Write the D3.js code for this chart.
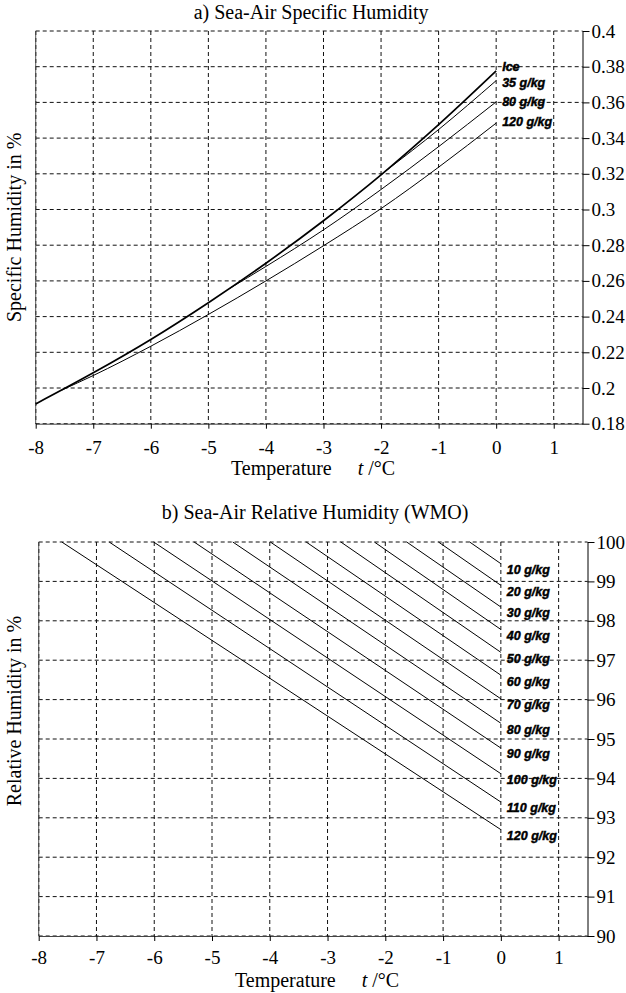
<!DOCTYPE html>
<html>
<head>
<meta charset="utf-8">
<script src="https://cdn.jsdelivr.net/npm/d3@7"></script>
<style>
  html, body { margin: 0; padding: 0; background: #fff; }
  svg { display: block; }
  .tick-label, .title, .axis-title { font-family: "Liberation Serif", "Times New Roman", serif; fill: #000; }
  .curve-label { font-family: "Liberation Sans", Arial, sans-serif; font-weight: bold; font-style: italic; font-size: 12.5px; fill: #000; stroke: #000; stroke-width: 0.45px; }
</style>
</head>
<body>
<div id="chart"></div>
<script>
// ---- panel a) specific humidity (%), temperature in °C
const xTicks = [-8, -7, -6, -5, -4, -3, -2, -1, 0, 1];
const qTicks = [0.18, 0.2, 0.22, 0.24, 0.26, 0.28, 0.3, 0.32, 0.34, 0.36, 0.38, 0.4];

const iceTemp = [-8, -7, -6, -5, -4, -3, -2, -1, 0];
const iceQ = [0.1911, 0.2085, 0.2272, 0.2478, 0.2699, 0.2937, 0.3194, 0.3475, 0.3776];

const sea35Temp = [-1.92, -1, 0];
const sea35Q = [0.3216, 0.3448, 0.3722];

const sea80Temp = [-4.64, -4, -3, -2, -1, 0];
const sea80Q = [0.2556, 0.2681, 0.2886, 0.3112, 0.3352, 0.3603];

const sea120Temp = [-7.55, -7, -6, -5, -4, -3, -2, -1, 0];
const sea120Q = [0.1988, 0.2070, 0.2234, 0.2412, 0.2600, 0.2797, 0.3005, 0.3237, 0.3484];

const qLabels = ["Ice", "35 g/kg", "80 g/kg", "120 g/kg"];

// ---- panel b) relative humidity (%), one straight line per salinity
const rhTicks = [90, 91, 92, 93, 94, 95, 96, 97, 98, 99, 100];
const salinities = [10, 20, 30, 40, 50, 60, 70, 80, 90, 100, 110, 120];
const rhStartTemp = [-0.54, -1.08, -1.63, -2.19, -2.77, -3.37, -3.99, -4.64, -5.31, -6.01, -6.78, -7.6];
const rhStartValue = [100, 100, 100, 100, 100, 100, 100, 100, 100, 100, 100, 100];
const rhEndTemp = [0, 0, 0, 0, 0, 0, 0, 0, 0, 0, 0, 0];
const rhEndValue = [99.45, 98.9, 98.35, 97.78, 97.2, 96.62, 96.02, 95.4, 94.77, 94.12, 93.4, 92.7];

const W = 626, H = 993;
const svg = d3.select("#chart").append("svg").attr("width", W).attr("height", H);

function zip(xs, ys) {
  return xs.map((t, i) => ({ t, v: ys[i] }));
}

function drawPanel(opt) {
  const x = d3.scaleLinear().domain([-8, 1.5]).range([opt.left, opt.right]);
  const y = d3.scaleLinear().domain(opt.yDomain).range([opt.bottom, opt.top]);
  const g = svg.append("g");

  // grid
  const grid = g.append("g").attr("stroke", "#111").attr("stroke-width", 1).attr("stroke-dasharray", "4,3");
  grid.selectAll("line.v").data(xTicks.concat([-8])).join("line").attr("class", "v")
    .attr("x1", d => x(d)).attr("x2", d => x(d))
    .attr("y1", opt.top).attr("y2", opt.bottom);
  grid.selectAll("line.h").data(opt.yTicks).join("line").attr("class", "h")
    .attr("x1", opt.left).attr("x2", opt.right)
    .attr("y1", d => y(d)).attr("y2", d => y(d));

  // left frame (solid, grey)
  g.append("line").attr("x1", opt.left).attr("x2", opt.left)
    .attr("y1", opt.top).attr("y2", opt.bottom)
    .attr("stroke", "#555").attr("stroke-width", 1);

  // bottom axis
  const ax = g.append("g").attr("transform", `translate(0,${opt.bottom})`)
    .call(d3.axisBottom(x).tickValues(xTicks).tickFormat(d => String(d)).tickSize(5).tickSizeOuter(0).tickPadding(opt.xPad));
  ax.select(".domain").attr("stroke", "#444");
  ax.selectAll(".tick line").attr("stroke", "#000");
  ax.selectAll("text").attr("class", "tick-label").attr("font-size", 19).attr("fill", "#000")
    .attr("font-family", "Liberation Serif, serif");

  // right axis
  const ay = g.append("g").attr("transform", `translate(${opt.right},0)`)
    .call(d3.axisRight(y).tickValues(opt.yTicks).tickFormat(d => String(d)).tickSize(7).tickSizeOuter(0).tickPadding(2));
  ay.select(".domain").attr("stroke", "#000");
  ay.selectAll(".tick line").attr("stroke", "#000");
  ay.selectAll("text").attr("class", "tick-label").attr("font-size", 19).attr("fill", "#000")
    .attr("font-family", "Liberation Serif, serif");

  // titles
  g.append("text").attr("class", "title")
    .attr("x", (opt.left + opt.right) / 2 + 2).attr("y", opt.titleY)
    .attr("text-anchor", "middle").attr("font-size", 20)
    .text(opt.title);

  const xt = g.append("text").attr("class", "axis-title")
    .attr("x", (opt.left + opt.right) / 2 + 4).attr("y", opt.bottom + 51)
    .attr("text-anchor", "middle").attr("font-size", 20);
  xt.append("tspan").text("Temperature");
  xt.append("tspan").attr("dx", 26).attr("font-style", "italic").text("t");
  xt.append("tspan").text(" /°C");

  g.append("text").attr("class", "axis-title")
    .attr("transform", `translate(21,${(opt.top + opt.bottom) / 2 + opt.yTitleShift}) rotate(-90)`)
    .attr("text-anchor", "middle").attr("font-size", 20)
    .text(opt.yTitle);

  return { g, x, y };
}

// ---- panel a
const a = drawPanel({
  left: 35.7, right: 582.5, top: 31, bottom: 423.7,
  yDomain: [0.18, 0.4], yTicks: qTicks, xPad: 12, titleY: 19,
  title: "a) Sea-Air Specific Humidity",
  yTitle: "Specific Humidity in %", yTitleShift: 0
});

const qSeries = [
  { data: zip(iceTemp, iceQ), width: 1.7 },
  { data: zip(sea35Temp, sea35Q), width: 1 },
  { data: zip(sea80Temp, sea80Q), width: 1 },
  { data: zip(sea120Temp, sea120Q), width: 1 }
];
const qLabelShift = [-4, 2.5, 0, -1.5];

const lineA = d3.line().x(d => a.x(d.t)).y(d => a.y(d.v)).curve(d3.curveMonotoneX);
a.g.selectAll("path.q").data(qSeries).join("path").attr("class", "q")
  .attr("d", d => lineA(d.data))
  .attr("fill", "none").attr("stroke", "#000").attr("stroke-width", d => d.width);

a.g.selectAll("text.curve-label").data(qSeries).join("text").attr("class", "curve-label")
  .attr("x", d => a.x(d.data[d.data.length - 1].t) + 6)
  .attr("y", (d, i) => a.y(d.data[d.data.length - 1].v) + qLabelShift[i])
  .attr("dy", "0.35em")
  .text((d, i) => qLabels[i]);

// ---- panel b
const b = drawPanel({
  left: 38.7, right: 587.5, top: 542, bottom: 936,
  yDomain: [90, 100], yTicks: rhTicks, xPad: 10, titleY: 519,
  title: "b) Sea-Air Relative Humidity (WMO)",
  yTitle: "Relative Humidity in %", yTitleShift: -28
});

const rhSeries = salinities.map((s, i) => ({
  s,
  data: [{ t: rhStartTemp[i], v: rhStartValue[i] }, { t: rhEndTemp[i], v: rhEndValue[i] }]
}));

const lineB = d3.line().x(d => b.x(d.t)).y(d => b.y(d.v));
b.g.selectAll("path.rh").data(rhSeries).join("path").attr("class", "rh")
  .attr("d", d => lineB(d.data))
  .attr("fill", "none").attr("stroke", "#000").attr("stroke-width", 1);

b.g.selectAll("text.curve-label").data(rhSeries).join("text").attr("class", "curve-label")
  .attr("x", d => b.x(0) + 6)
  .attr("y", d => b.y(d.data[1].v) + 6)
  .attr("dy", "0.35em")
  .text(d => `${d.s} g/kg`);
</script>
</body>
</html>
